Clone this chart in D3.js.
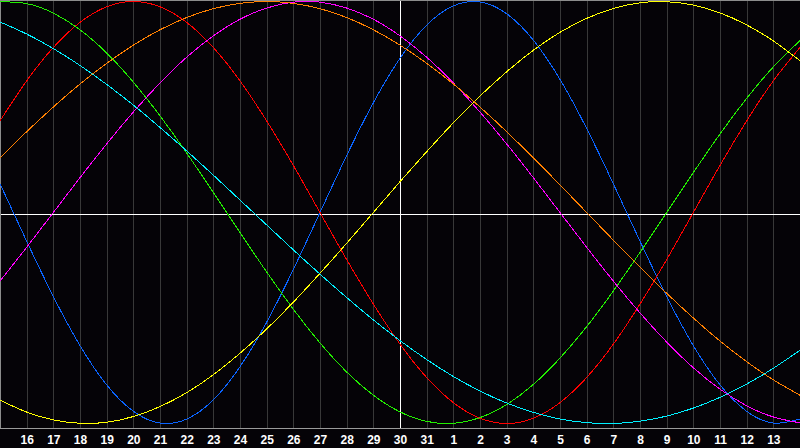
<!DOCTYPE html>
<html>
<head>
<meta charset="utf-8">
<script src="https://cdn.jsdelivr.net/npm/d3@7"></script>
<style>
html,body{margin:0;padding:0;background:#050307;}
svg{display:block;}
</style>
</head>
<body>
<script>
// Day labels for each day index (0 .. 30)
const dayLabels = [15,16,17,18,19,20,21,22,23,24,25,26,27,28,29,30,31,1,2,3,4,5,6,7,8,9,10,11,12,13,14];

// Cycle values per day (-1 .. 1)
const physical = [0.136,-0.136,-0.398,-0.631,-0.817,-0.942,-0.998,-0.979,-0.888,-0.731,-0.520,-0.270,0,0.270,0.520,0.731,0.888,0.979,0.998,0.942,0.817,0.631,0.398,0.136,-0.136,-0.398,-0.631,-0.817,-0.942,-0.998,-0.979];
const emotional = [0.434,0.624,0.782,0.901,0.975,1,0.975,0.901,0.782,0.624,0.434,0.223,0,-0.223,-0.434,-0.624,-0.782,-0.901,-0.975,-1,-0.975,-0.901,-0.782,-0.624,-0.434,-0.223,0,0.223,0.434,0.624,0.782];
const intellectual = [0.999,0.990,0.945,0.866,0.756,0.618,0.458,0.282,0.095,-0.095,-0.282,-0.458,-0.618,-0.756,-0.866,-0.945,-0.990,-0.999,-0.972,-0.910,-0.815,-0.690,-0.541,-0.372,-0.189,0,0.189,0.372,0.541,0.690,0.815];
const intuitive = [-0.325,-0.165,0,0.165,0.325,0.476,0.614,0.736,0.837,0.916,0.969,0.997,0.997,0.969,0.916,0.837,0.736,0.614,0.476,0.325,0.165,0,-0.165,-0.325,-0.476,-0.614,-0.736,-0.837,-0.916,-0.969,-0.997];
const aesthetic = [-0.889,-0.946,-0.983,-0.999,-0.994,-0.967,-0.920,-0.854,-0.769,-0.667,-0.552,-0.425,-0.288,-0.146,0,0.146,0.288,0.425,0.552,0.667,0.769,0.854,0.920,0.967,0.994,0.999,0.983,0.946,0.889,0.813,0.720];
const awareness = [0.259,0.383,0.5,0.609,0.707,0.793,0.866,0.924,0.966,0.991,1,0.991,0.966,0.924,0.866,0.793,0.707,0.609,0.5,0.383,0.259,0.131,0,-0.131,-0.259,-0.383,-0.5,-0.609,-0.707,-0.793,-0.866];
const spiritual = [0.903,0.846,0.777,0.697,0.607,0.509,0.403,0.292,0.177,0.059,-0.059,-0.177,-0.292,-0.403,-0.509,-0.607,-0.697,-0.777,-0.846,-0.903,-0.947,-0.979,-0.996,-1.000,-0.989,-0.965,-0.927,-0.876,-0.813,-0.738,-0.653];

const seriesNames = ["physical","emotional","intellectual","intuitive","aesthetic","awareness","spiritual"];
const seriesValues = [physical, emotional, intellectual, intuitive, aesthetic, awareness, spiritual];
const seriesColors = ["#0a64ff","#ff0000","#22ee00","#ff00ff","#ffff00","#ff8000","#00f0ff"];

const W = 800, H = 448, plotBottom = 428;

const svg = d3.select("body").append("svg")
  .attr("width", W).attr("height", H)
  .style("background", "#050307");

const x = d3.scaleLinear().domain([0, dayLabels.length - 1]).range([0, W]);
const y = d3.scaleLinear().domain([-1, 1]).range([423.5, 1.5]);

// vertical day grid
svg.append("g").selectAll("line")
  .data(d3.range(1, dayLabels.length - 1).filter(i => i !== 15))
  .join("line")
  .attr("x1", d => Math.round(x(d)) + 0.5).attr("x2", d => Math.round(x(d)) + 0.5)
  .attr("y1", 0).attr("y2", plotBottom)
  .attr("stroke", "#383838").attr("stroke-width", 1)
  .attr("shape-rendering", "crispEdges");

// centre cross (today + zero line)
svg.append("line")
  .attr("x1", Math.round(x(15)) + 0.5).attr("x2", Math.round(x(15)) + 0.5)
  .attr("y1", 0).attr("y2", plotBottom)
  .attr("stroke", "#ffffff").attr("shape-rendering", "crispEdges");
svg.append("line")
  .attr("x1", 0).attr("x2", W)
  .attr("y1", 214.5).attr("y2", 214.5)
  .attr("stroke", "#ffffff").attr("shape-rendering", "crispEdges");

// frame
svg.append("line").attr("x1", 0).attr("x2", W).attr("y1", 0.5).attr("y2", 0.5)
  .attr("stroke", "#8c8c8c").attr("shape-rendering", "crispEdges");
svg.append("line").attr("x1", 0.5).attr("x2", 0.5).attr("y1", 0).attr("y2", plotBottom)
  .attr("stroke", "#8c8c8c").attr("shape-rendering", "crispEdges");
svg.append("line").attr("x1", 0).attr("x2", W).attr("y1", plotBottom + 0.5).attr("y2", plotBottom + 0.5)
  .attr("stroke", "#9a9a9a").attr("shape-rendering", "crispEdges");

// curves
const line = d3.line()
  .x((d, i) => x(i))
  .y(d => y(d))
  .curve(d3.curveNatural);

svg.append("g").selectAll("path")
  .data(seriesValues)
  .join("path")
  .attr("class", (d, i) => seriesNames[i])
  .attr("d", d => line(d))
  .attr("fill", "none")
  .attr("stroke", (d, i) => seriesColors[i])
  .attr("stroke-width", 1)
  .attr("shape-rendering", "crispEdges");

// day axis
const axis = d3.axisBottom(x)
  .tickValues(d3.range(1, dayLabels.length - 1))
  .tickFormat(i => dayLabels[i])
  .tickSize(0)
  .tickPadding(7);

const ag = svg.append("g")
  .attr("transform", `translate(0,${plotBottom})`)
  .call(axis);
ag.select(".domain").remove();
ag.selectAll("text")
  .attr("fill", "#ffffff")
  .style("font-family", "'Liberation Sans', Arial, sans-serif")
  .style("font-weight", "bold")
  .style("font-size", "12px");
</script>
</body>
</html>
